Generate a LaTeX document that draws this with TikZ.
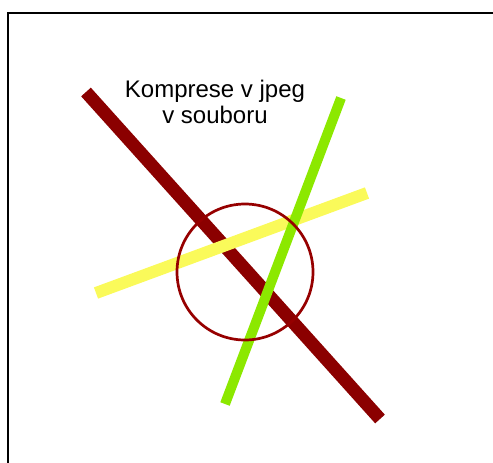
\documentclass[tikz,border=0pt]{standalone}
\usepackage{fontspec}
\setmainfont{Liberation Sans}
\definecolor{darkred}{RGB}{139,0,0}
\definecolor{circred}{RGB}{150,0,0}
\definecolor{lyellow}{RGB}{250,250,90}
\definecolor{lgreen}{RGB}{140,232,0}
\tikzset{
  bar/.style={line width=#1, line cap=butt},
  frame/.style={line width=2pt, black},
}
\begin{document}
\begin{tikzpicture}[x=1pt,y=-1pt]
\useasboundingbox (0,0) rectangle (493,463);
% frame
\coordinate (fbl) at (8,470);
\coordinate (ftl) at (8,13);
\coordinate (ftr) at (500,13);
\draw[frame] (fbl) -- (ftl) -- (ftr);
% red
\coordinate (r1) at (86,92);
\coordinate (r2) at (380,419);
\draw[bar=13pt, darkred] (r1) -- (r2);
% yellow
\coordinate (y1) at (96,293);
\coordinate (y2) at (367,193);
\draw[bar=12pt, lyellow] (y1) -- (y2);
% green
\coordinate (g1) at (341,98);
\coordinate (g2) at (225,404);
\draw[bar=10pt, lgreen] (g1) -- (g2);
% circle
\node[circle, draw=circred, line width=2.7pt, minimum size=136pt, inner sep=0pt] (circ) at (245,272) {};
% text
\node[align=center, font=\fontsize{24}{26}\selectfont] (lbl) at (215,102) {Komprese v jpeg\\v souboru};
\end{tikzpicture}
\end{document}
